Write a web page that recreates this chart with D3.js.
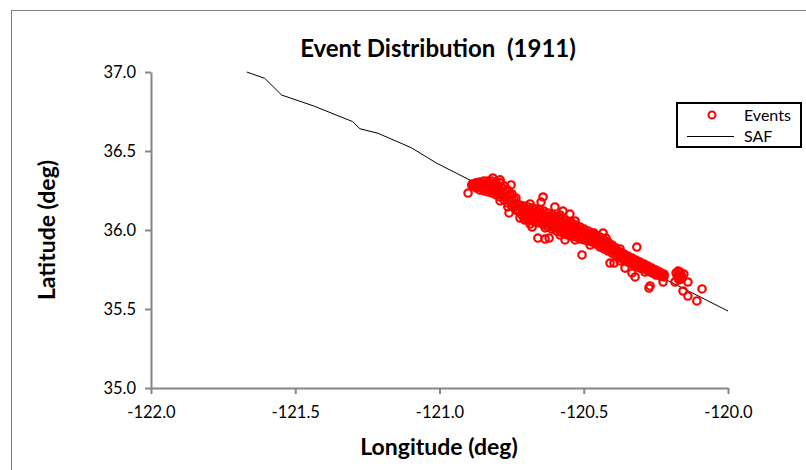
<!DOCTYPE html>
<html>
<head>
<meta charset="utf-8">
<script src="https://cdn.jsdelivr.net/npm/d3@7"></script>
<style>
  html, body { margin: 0; padding: 0; background: #fff; }
  svg { display: block; }
</style>
</head>
<body>
<svg id="chart" width="806" height="470"></svg>
<script>
// Axis tick values
const lonTicks = [-122.0, -121.5, -121.0, -120.5, -120.0];
const latTicks = [35.0, 35.5, 36.0, 36.5, 37.0];

// San Andreas Fault trace (longitude, latitude)
const safLon = [-121.668, -121.606, -121.547, -121.436, -121.301, -121.276, -121.213, -121.098, -121.009, -120.000];
const safLat = [37.000, 36.960, 36.854, 36.785, 36.686, 36.641, 36.612, 36.521, 36.422, 35.487];

// Event epicentres along the fault [longitude, latitude]
const events = [
  [-120.887, 36.291], [-120.887, 36.285], [-120.887, 36.279],
  [-120.880, 36.291], [-120.880, 36.279],
  [-120.873, 36.298], [-120.873, 36.285], [-120.873, 36.266],
  [-120.867, 36.291], [-120.867, 36.272],
  [-120.860, 36.304], [-120.860, 36.279], [-120.860, 36.253],
  [-120.853, 36.291], [-120.853, 36.266],
  [-120.846, 36.310], [-120.846, 36.279], [-120.846, 36.247],
  [-120.839, 36.291], [-120.839, 36.260],
  [-120.832, 36.310], [-120.832, 36.279], [-120.832, 36.241],
  [-120.825, 36.291], [-120.825, 36.253],
  [-120.818, 36.310], [-120.818, 36.272], [-120.818, 36.234],
  [-120.811, 36.285], [-120.811, 36.247],
  [-120.804, 36.304], [-120.804, 36.266], [-120.804, 36.222],
  [-120.797, 36.279], [-120.797, 36.234],
  [-120.790, 36.298], [-120.790, 36.253], [-120.790, 36.209],
  [-120.783, 36.266], [-120.783, 36.222],
  [-120.776, 36.279], [-120.776, 36.234], [-120.776, 36.190],
  [-120.770, 36.247], [-120.770, 36.203],
  [-120.763, 36.253], [-120.763, 36.215], [-120.763, 36.171],
  [-120.756, 36.222], [-120.756, 36.184],
  [-120.749, 36.228], [-120.749, 36.190], [-120.749, 36.152],
  [-120.742, 36.196], [-120.742, 36.158],
  [-120.735, 36.203], [-120.735, 36.165], [-120.735, 36.127],
  [-120.728, 36.158], [-120.728, 36.120],
  [-120.721, 36.158], [-120.721, 36.120], [-120.721, 36.076],
  [-120.714, 36.133], [-120.714, 36.095],
  [-120.707, 36.152], [-120.707, 36.114], [-120.707, 36.070],
  [-120.700, 36.127], [-120.700, 36.089],
  [-120.693, 36.146], [-120.693, 36.108], [-120.693, 36.063],
  [-120.686, 36.120], [-120.686, 36.082],
  [-120.679, 36.139], [-120.679, 36.101], [-120.679, 36.057],
  [-120.672, 36.114], [-120.672, 36.076],
  [-120.666, 36.133], [-120.666, 36.095], [-120.666, 36.051],
  [-120.659, 36.108], [-120.659, 36.070],
  [-120.652, 36.127], [-120.652, 36.089], [-120.652, 36.044],
  [-120.645, 36.101], [-120.645, 36.057],
  [-120.638, 36.120], [-120.638, 36.076], [-120.638, 36.032],
  [-120.631, 36.089], [-120.631, 36.044],
  [-120.624, 36.108], [-120.624, 36.063], [-120.624, 36.019],
  [-120.617, 36.082], [-120.617, 36.032],
  [-120.610, 36.095], [-120.610, 36.051], [-120.610, 36.006],
  [-120.603, 36.070], [-120.603, 36.019],
  [-120.596, 36.082], [-120.596, 36.038], [-120.596, 35.994],
  [-120.589, 36.057], [-120.589, 36.013],
  [-120.582, 36.070], [-120.582, 36.032], [-120.582, 35.987],
  [-120.575, 36.044], [-120.575, 36.000],
  [-120.568, 36.063], [-120.568, 36.019], [-120.568, 35.975],
  [-120.562, 36.038], [-120.562, 35.994],
  [-120.555, 36.051], [-120.555, 36.013], [-120.555, 35.968],
  [-120.548, 36.025], [-120.548, 35.987],
  [-120.541, 36.044], [-120.541, 36.006], [-120.541, 35.962],
  [-120.534, 36.019], [-120.534, 35.981],
  [-120.527, 36.032], [-120.527, 35.994], [-120.527, 35.956],
  [-120.520, 36.006], [-120.520, 35.968],
  [-120.513, 36.019], [-120.513, 35.981], [-120.513, 35.943],
  [-120.506, 35.994], [-120.506, 35.956],
  [-120.499, 36.006], [-120.499, 35.975], [-120.499, 35.937],
  [-120.492, 35.981], [-120.492, 35.949],
  [-120.485, 35.994], [-120.485, 35.962], [-120.485, 35.930],
  [-120.478, 35.975], [-120.478, 35.943],
  [-120.471, 35.981], [-120.471, 35.956], [-120.471, 35.924],
  [-120.465, 35.962], [-120.465, 35.930],
  [-120.458, 35.968], [-120.458, 35.943], [-120.458, 35.911],
  [-120.451, 35.949], [-120.451, 35.918],
  [-120.444, 35.956], [-120.444, 35.924], [-120.444, 35.892],
  [-120.437, 35.930], [-120.437, 35.899],
  [-120.430, 35.937], [-120.430, 35.911], [-120.430, 35.880],
  [-120.423, 35.918], [-120.423, 35.886],
  [-120.416, 35.924], [-120.416, 35.899], [-120.416, 35.867],
  [-120.409, 35.899], [-120.409, 35.873],
  [-120.402, 35.905], [-120.402, 35.880], [-120.402, 35.854],
  [-120.395, 35.886], [-120.395, 35.861],
  [-120.388, 35.886], [-120.388, 35.861], [-120.388, 35.835],
  [-120.381, 35.861], [-120.381, 35.842],
  [-120.374, 35.861], [-120.374, 35.842], [-120.374, 35.823],
  [-120.367, 35.848], [-120.367, 35.823],
  [-120.361, 35.848], [-120.361, 35.829], [-120.361, 35.810],
  [-120.354, 35.835], [-120.354, 35.810],
  [-120.347, 35.835], [-120.347, 35.816], [-120.347, 35.797],
  [-120.340, 35.823], [-120.340, 35.797],
  [-120.333, 35.823], [-120.333, 35.804], [-120.333, 35.785],
  [-120.326, 35.810], [-120.326, 35.785],
  [-120.319, 35.810], [-120.319, 35.791], [-120.319, 35.772],
  [-120.312, 35.797], [-120.312, 35.772],
  [-120.305, 35.797], [-120.305, 35.778], [-120.305, 35.759],
  [-120.298, 35.785], [-120.298, 35.766],
  [-120.291, 35.785], [-120.291, 35.772], [-120.291, 35.753],
  [-120.284, 35.772], [-120.284, 35.753],
  [-120.277, 35.772], [-120.277, 35.759], [-120.277, 35.740],
  [-120.270, 35.759], [-120.270, 35.740],
  [-120.264, 35.759], [-120.264, 35.747], [-120.264, 35.728],
  [-120.257, 35.747], [-120.257, 35.728],
  [-120.250, 35.747], [-120.250, 35.734], [-120.250, 35.715],
  [-120.243, 35.734], [-120.243, 35.721],
  [-120.236, 35.734], [-120.236, 35.721], [-120.236, 35.709],
  [-120.229, 35.721], [-120.229, 35.709],
  [-120.222, 35.721], [-120.222, 35.715], [-120.222, 35.703],
  [-120.790, 36.317], [-120.790, 36.184], [-120.763, 36.146],
  [-120.686, 36.165], [-120.686, 36.038], [-120.634, 36.013],
  [-120.582, 36.095], [-120.582, 35.968], [-120.530, 36.057],
  [-120.530, 35.937], [-120.478, 35.905], [-120.374, 35.880],
  [-120.374, 35.804], [-120.288, 35.734],
  [-120.180, 35.728], [-120.166, 35.734], [-120.153, 35.721],
  [-120.173, 35.696], [-120.160, 35.690], [-120.166, 35.709],
  [-120.173, 35.740], [-120.163, 35.715], [-120.170, 35.684],
  [-120.160, 35.703], [-120.176, 35.709],
  [-120.901, 36.234], [-120.815, 36.329], [-120.752, 36.285],
  [-120.759, 36.108], [-120.728, 36.120], [-120.704, 36.063],
  [-120.679, 36.019], [-120.648, 36.177], [-120.641, 36.209],
  [-120.600, 36.146], [-120.572, 36.120], [-120.548, 36.101],
  [-120.659, 35.949], [-120.634, 35.943], [-120.620, 35.949],
  [-120.565, 35.937], [-120.506, 35.842], [-120.465, 35.981],
  [-120.433, 35.981], [-120.423, 35.949], [-120.316, 35.892],
  [-120.409, 35.791], [-120.395, 35.791], [-120.357, 35.759],
  [-120.333, 35.728], [-120.322, 35.703], [-120.274, 35.633],
  [-120.270, 35.646], [-120.225, 35.671], [-120.184, 35.671],
  [-120.139, 35.671], [-120.156, 35.614], [-120.139, 35.582],
  [-120.108, 35.551], [-120.090, 35.627]
];

const svg = d3.select("#chart");
const W = 806, H = 470;
const plot = { left: 151, right: 728, top: 72, bottom: 388 };

const axisColor = "#868686";
const labelFont = "Lato, 'Liberation Sans', sans-serif";

// Outer chart frame
svg.append("rect")
  .attr("x", 11.5).attr("y", 10.5)
  .attr("width", W + 10).attr("height", H + 10)
  .attr("fill", "#fff")
  .attr("stroke", "#7f7f7f").attr("stroke-width", 1);

const x = d3.scaleLinear().domain([-122, -120]).range([plot.left, plot.right]);
const y = d3.scaleLinear().domain([35, 37]).range([plot.bottom, plot.top]);

// Axes
const xAxis = d3.axisBottom(x).tickValues(lonTicks).tickSize(6).tickSizeOuter(0)
  .tickFormat(d => d.toFixed(1));
const yAxis = d3.axisLeft(y).tickValues(latTicks).tickSize(6).tickSizeOuter(0)
  .tickFormat(d => d.toFixed(1));

const gx = svg.append("g").attr("transform", `translate(0,${plot.bottom})`).call(xAxis);
const gy = svg.append("g").attr("transform", `translate(${plot.left},0)`).call(yAxis);

[gx, gy].forEach(g => {
  g.select(".domain").attr("stroke", axisColor).attr("stroke-width", 2);
  g.selectAll(".tick line").attr("stroke", axisColor).attr("stroke-width", 2);
  g.selectAll(".tick text")
    .attr("fill", "#000")
    .style("font-family", labelFont)
    .style("font-size", "16.5px");
});
gx.selectAll(".tick text").attr("dy", "1.25em");
gy.selectAll(".tick text").attr("x", -15).attr("dy", "0.34em");

// Fault trace
const line = d3.line().x(d => x(d[0])).y(d => y(d[1]));
const safPts = safLon.map((v, i) => [v, safLat[i]]);
svg.append("path")
  .datum(safPts)
  .attr("d", line)
  .attr("fill", "none")
  .attr("stroke", "#000")
  .attr("stroke-width", 1);

// Events
svg.append("g")
  .selectAll("circle")
  .data(events)
  .join("circle")
  .attr("cx", d => x(d[0]))
  .attr("cy", d => y(d[1]))
  .attr("r", 3.7)
  .attr("fill", "none")
  .attr("stroke", "#ff0000")
  .attr("stroke-width", 2.2);

// Title and axis titles
const titleStyle = (sel, size) => sel
  .style("font-family", labelFont)
  .style("font-weight", "bold")
  .style("font-size", size)
  .style("white-space", "pre");

svg.append("text")
  .attr("x", 438).attr("y", 57)
  .attr("text-anchor", "middle")
  .call(titleStyle, "24px")
  .text("Event Distribution  (1911)");

svg.append("text")
  .attr("x", 439).attr("y", 455)
  .attr("text-anchor", "middle")
  .call(titleStyle, "23px")
  .text("Longitude (deg)");

svg.append("text")
  .attr("transform", "translate(55,230) rotate(-90)")
  .attr("text-anchor", "middle")
  .call(titleStyle, "23px")
  .text("Latitude (deg)");

// Legend
const lg = svg.append("g");
lg.append("rect")
  .attr("x", 677).attr("y", 103)
  .attr("width", 124).attr("height", 44)
  .attr("fill", "#fff")
  .attr("stroke", "#000").attr("stroke-width", 2);
lg.append("circle")
  .attr("cx", 712).attr("cy", 115).attr("r", 3.5)
  .attr("fill", "none").attr("stroke", "#ff0000").attr("stroke-width", 2);
lg.append("line")
  .attr("x1", 687).attr("x2", 734).attr("y1", 136.5).attr("y2", 136.5)
  .attr("stroke", "#000").attr("stroke-width", 1);
lg.append("text")
  .attr("x", 744).attr("y", 121)
  .style("font-family", labelFont).style("font-size", "16px")
  .text("Events");
lg.append("text")
  .attr("x", 744).attr("y", 142)
  .style("font-family", labelFont).style("font-size", "16px")
  .text("SAF");
</script>
</body>
</html>
